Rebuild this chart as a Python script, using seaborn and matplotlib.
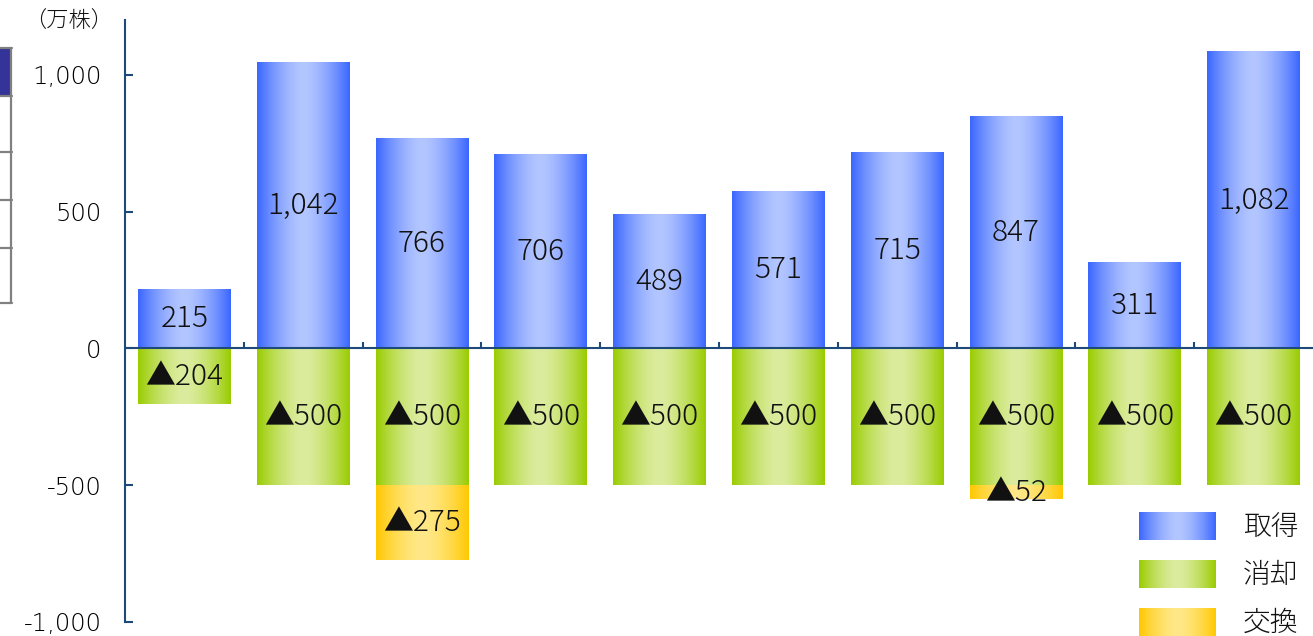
import numpy as np
import pandas as pd
import matplotlib
matplotlib.use("Agg")
import matplotlib.pyplot as plt
from matplotlib.patches import Rectangle
from matplotlib.lines import Line2D
from matplotlib.ticker import FuncFormatter, FixedLocator
import seaborn as sns

# ---- data ----
periods = ["P1", "P2", "P3", "P4", "P5", "P6", "P7", "P8", "P9", "P10"]
acquire = [215, 1042, 766, 706, 489, 571, 715, 847, 311, 1082]      # 取得
cancel = [-204, -500, -500, -500, -500, -500, -500, -500, -500, -500]  # 消却
exchange = [0, 0, -275, 0, 0, 0, 0, -52, 0, 0]                       # 交換
series_names = ["取得", "消却", "交換"]
y_ticks = [-1000, -500, 0, 500, 1000]
unit_label = "（万株）"

sns.set_theme(style="white")
plt.rcParams["font.family"] = ["Noto Sans CJK JP", "DejaVu Sans"]

W, H = 1313, 636
fig = plt.figure(figsize=(W / 100, H / 100), dpi=100)
ax = fig.add_axes([125 / W, 14 / H, (W - 125) / W, (622 - 20) / H])

AXC = "#1d4a7a"
TXT = "#111111"
grad_cols = {
    "取得": ("#3a66ff", "#b3c6ff"),
    "消却": ("#99cc00", "#dcec9f"),
    "交換": ("#ffc800", "#ffe888"),
}


def grad_img(edge, center, n=200):
    e = np.array(matplotlib.colors.to_rgb(edge))
    c = np.array(matplotlib.colors.to_rgb(center))
    t = np.abs(np.linspace(-1, 1, n))
    t = t ** 1.6
    img = c[None, :] * (1 - t[:, None]) + e[None, :] * t[:, None]
    return img[None, :, :]


df = pd.DataFrame({"period": periods, "acquire": acquire, "cancel": cancel,
                   "exchange": exchange})
df["total_neg"] = df["cancel"] + df["exchange"]

bw = 0.78
groups = []
for col, name, z in [("total_neg", "交換", 1), ("cancel", "消却", 2), ("acquire", "取得", 3)]:
    n0 = len(ax.patches)
    sns.barplot(data=df, x="period", y=col, color=grad_cols[name][0], width=bw,
                ax=ax, order=periods, errorbar=None, zorder=z)
    groups.append((name, z, ax.patches[n0:]))

ax.set_xlim(-0.5, len(periods) - 0.5)
ax.set_ylim(-1000, 1200)

for name, z, patches in groups:
    img = grad_img(*grad_cols[name])
    for p in patches:
        x, y = p.get_x(), p.get_y()
        w, h = p.get_width(), p.get_height()
        if abs(h) < 1e-9:
            continue
        y0, y1 = min(y, y + h), max(y, y + h)
        ax.imshow(img, extent=[x, x + w, y0, y1], aspect="auto", zorder=z,
                  interpolation="bilinear")
        p.set_visible(False)

ax.set_xlim(-0.5, len(periods) - 0.5)
ax.set_ylim(-1000, 1200)

# labels
lab_fs = 21.5
lab_kw = dict(ha="center", va="center", fontsize=lab_fs, color=TXT, zorder=5,
              fontweight="light")
for i, v in enumerate(acquire):
    ax.text(i, v / 2, f"{v:,}", **lab_kw)
for i, v in enumerate(cancel):
    ax.text(i, v / 2, f"▲{abs(v):,}", **lab_kw)
for i, (c, e) in enumerate(zip(cancel, exchange)):
    if e != 0:
        ax.text(i, c + e / 2, f"▲{abs(e):,}", **lab_kw)

# axes styling
for s in ["top", "right", "bottom"]:
    ax.spines[s].set_visible(False)
ax.spines["left"].set_color(AXC)
ax.spines["left"].set_linewidth(1.5)
ax.axhline(0, color=AXC, lw=1.5, zorder=6)
ax.set_xlabel("")
ax.set_ylabel("")
ax.yaxis.set_major_locator(FixedLocator(y_ticks))
ax.yaxis.set_major_formatter(FuncFormatter(lambda v, p: f"{v:,.0f}"))
ax.tick_params(axis="y", direction="in", length=6, width=1.5, color=AXC,
               labelsize=17.5, labelcolor="#000000", pad=17, left=True)
for lbl in ax.get_yticklabels():
    lbl.set_fontfamily(["DejaVu Sans"])
    lbl.set_fontweight("light")
ax.xaxis.set_major_locator(FixedLocator([i + 0.5 for i in range(len(periods) - 1)]))
ax.set_xticklabels([])
ax.tick_params(axis="x", direction="in", length=4.5, width=1.5, color=AXC,
               bottom=True)
ax.spines["bottom"].set_position(("data", 0))
ax.grid(False)

fig.text(69 / W, 1 - 22 / H, unit_label, ha="center", va="center",
         fontsize=16, color=TXT, fontweight="light")

# legend with gradient swatches
for k, name in enumerate(series_names):
    ytop = 512 + 48 * k
    sax = fig.add_axes([1139 / W, 1 - (ytop + 28) / H, 77 / W, 28 / H])
    sax.imshow(grad_img(*grad_cols[name]), aspect="auto", interpolation="bilinear")
    sax.set_axis_off()
    fig.text(1243 / W, 1 - (ytop + 15) / H, name, ha="left", va="center",
             fontsize=20, color=TXT, fontweight="light")

# cropped table fragment at left edge
fig.patches.append(Rectangle((0, 1 - 96 / H), 11 / W, 48 / H, transform=fig.transFigure,
                             facecolor="#333399", edgecolor="none", zorder=1))
for yy in [48, 96, 152, 200, 248, 303]:
    fig.lines.append(Line2D([0, 12 / W], [1 - yy / H] * 2, transform=fig.transFigure,
                            color="#808080", lw=1.6))
fig.lines.append(Line2D([11 / W] * 2, [1 - 48 / H, 1 - 303 / H], transform=fig.transFigure,
                        color="#808080", lw=1.6))

fig.savefig("out.png", dpi=100)
